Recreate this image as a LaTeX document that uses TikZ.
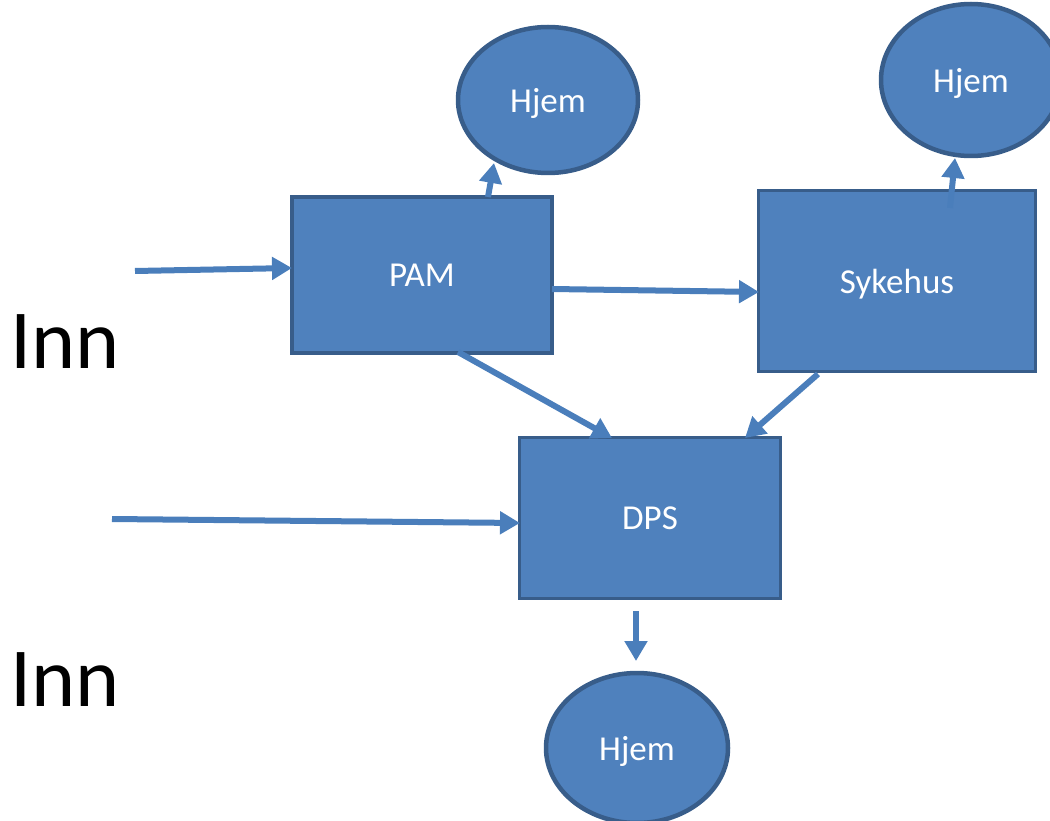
\documentclass[tikz,border=0pt]{standalone}
\usepackage{fontspec}
\setmainfont{Carlito}
\usetikzlibrary{shapes.geometric,arrows.meta}
\definecolor{boxfill}{HTML}{4F81BD}
\definecolor{boxline}{HTML}{385D8A}
\definecolor{arrowblue}{HTML}{4A7EBB}
\begin{document}
\begin{tikzpicture}[x=1pt,y=-1pt,
  box/.style={draw=boxline,line width=3.5pt,fill=boxfill,rectangle,inner sep=0pt,text=white,text depth=0pt,font=\fontsize{35}{38}\selectfont},
  home/.style={draw=boxline,line width=4.5pt,fill=boxfill,ellipse,inner sep=0pt,text=white,text depth=0pt,font=\fontsize{35}{38}\selectfont},
  flow/.style={draw=arrowblue,line width=6pt,-{Triangle[width=22pt,length=20pt]}},
  innlabel/.style={font=\fontsize{84}{90}\selectfont,text=black,inner sep=0pt}]
\useasboundingbox (0,0) rectangle (1050,821);
\node[box,minimum width=260pt,minimum height=156pt] (pam) at (422,275) {PAM};
\node[box,minimum width=277pt,minimum height=181pt] (syk) at (897,281) {Sykehus};
\node[box,minimum width=261pt,minimum height=161pt] (dps) at (650,518) {DPS};
\node[home,minimum width=180pt,minimum height=146pt] (h1) at (548,100) {Hjem};
\node[home,minimum width=180pt,minimum height=152pt] (h2) at (971,80) {Hjem};
\node[home,minimum width=182pt,minimum height=150pt] (h3) at (637,748) {Hjem};
\node[innlabel] (inn1) at (65,342) {Inn};
\node[innlabel] (inn2) at (65,680) {Inn};
\coordinate (a1s) at (135,271);
\coordinate (a1e) at (292,268);
\coordinate (a7s) at (112,519);
\coordinate (a7e) at (520,523);
\coordinate (a2s) at (552,289);
\coordinate (a2e) at (759,292);
\coordinate (a3s) at (488,197);
\coordinate (a3e) at (494,163);
\coordinate (a4s) at (458,352);
\coordinate (a4e) at (612,438);
\coordinate (a5s) at (818,374);
\coordinate (a5e) at (745,438);
\coordinate (a6s) at (950,208);
\coordinate (a6e) at (955,158);
\coordinate (a8s) at (636,611);
\coordinate (a8e) at (636,661);
\draw[flow] (a1s) -- (a1e);
\draw[flow] (a7s) -- (a7e);
\draw[flow] (a2s) -- (a2e);
\draw[flow] (a3s) -- (a3e);
\draw[flow] (a4s) -- (a4e);
\draw[flow] (a5s) -- (a5e);
\draw[flow] (a6s) -- (a6e);
\draw[flow] (a8s) -- (a8e);
\end{tikzpicture}
\end{document}
